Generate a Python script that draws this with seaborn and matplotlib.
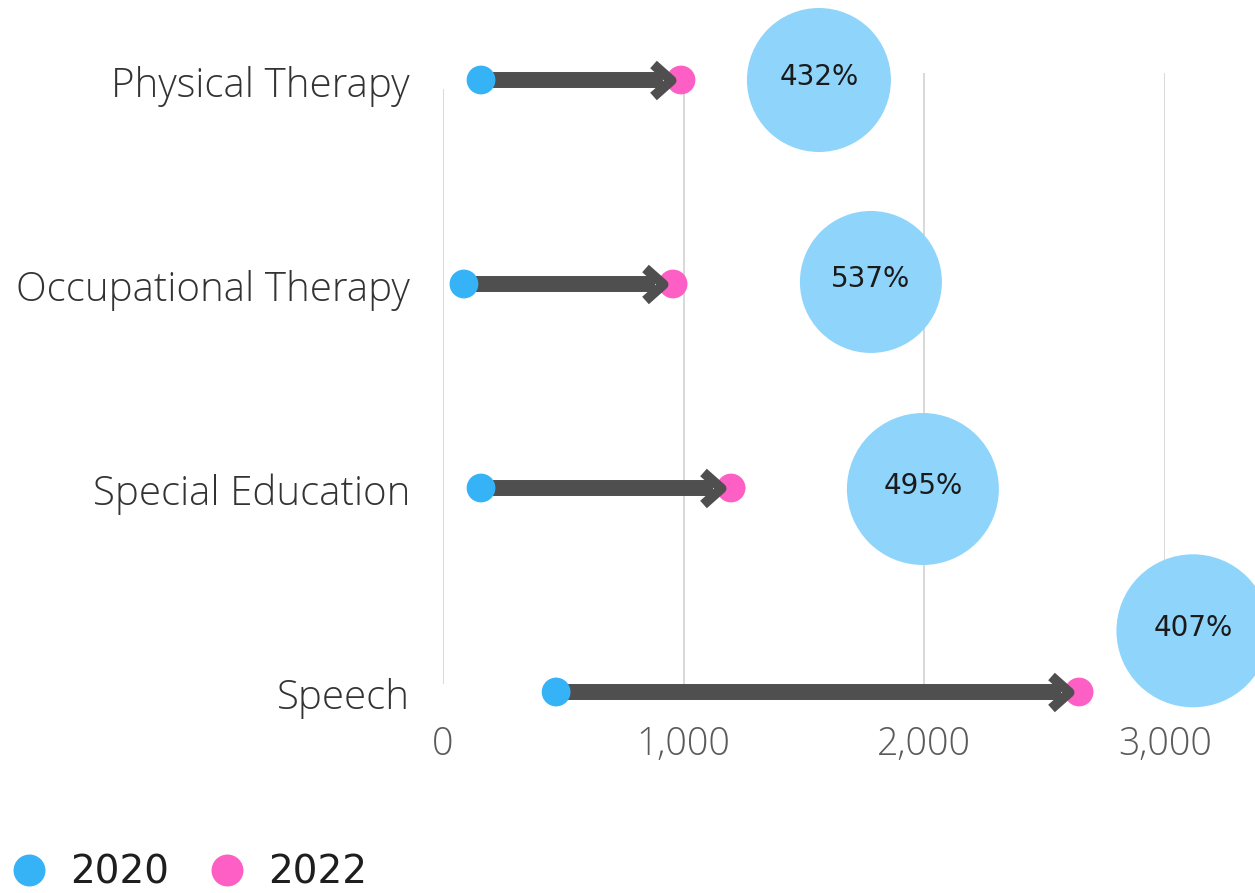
import matplotlib
matplotlib.use("Agg")
import matplotlib.pyplot as plt
import matplotlib.transforms as mtransforms
from matplotlib.lines import Line2D
from matplotlib.markers import MarkerStyle
from matplotlib.path import Path
import seaborn as sns
import pandas as pd

# --- data -------------------------------------------------------------
categories = ["Physical Therapy", "Occupational Therapy", "Special Education", "Speech"]
values_2020 = [158, 87, 158, 470]
values_2022 = [989, 956, 1197, 2643]
growth_labels = ["432%", "537%", "495%", "407%"]
x_ticks = [0, 1000, 2000, 3000]
x_tick_labels = ["0", "1,000", "2,000", "3,000"]

# --- layout / style ---------------------------------------------------
W, H = 1255, 893
BLUE = "#36b3f6"
PINK = "#fd5fc5"
BUBBLE = "#8fd5fb"
ARROW = "#4f4f4f"
GRID = "#d6d6d6"

bubble_x = [1562, 1778, 1994, 3116]
bubble_dy = [0.0, -0.01, 0.005, -0.30]
bubble_diam_px = [144, 142, 152, 153]

sns.set_theme(style="white")
plt.rcParams["font.family"] = ["Open Sans", "DejaVu Sans"]

rows = list(range(len(categories)))
df = pd.DataFrame({
    "category": categories * 2,
    "row": rows * 2,
    "value": values_2020 + values_2022,
    "year": ["2020"] * len(categories) + ["2022"] * len(categories),
})

fig = plt.figure(figsize=(W / 100, H / 100), dpi=100)
ax = fig.add_axes([443 / W, 1 - 684 / H, 722 / W, 611 / H])
ax.set_xlim(0, 3000)
ax.set_ylim((684 - 80) / 204, (73 - 80) / 204)
for s in ax.spines.values():
    s.set_visible(False)

# vertical gridlines
for t in x_ticks:
    top = (89 - 80) / 204 if t == 0 else (73 - 80) / 204
    ax.vlines(t, top, (684 - 80) / 204, color=GRID, lw=1.3, zorder=0)

# growth bubbles
for i, lab in enumerate(growth_labels):
    yb = rows[i] + bubble_dy[i]
    ax.scatter(bubble_x[i], yb, s=(bubble_diam_px[i] * 0.72) ** 2, color=BUBBLE,
               edgecolor="none", zorder=1, clip_on=False)
    ax.text(bubble_x[i], yb - 0.015, lab, ha="center", va="center", fontsize=20,
            family=["DejaVu Sans"], color="#1a1a1a", zorder=6, clip_on=False)

# 2022 endpoints (beneath the arrows)
sns.scatterplot(data=df[df["year"] == "2022"], x="value", y="row", color=PINK,
                s=430, edgecolor="none", zorder=2, clip_on=False, legend=False, ax=ax)

# arrow shafts from 2020 to 2022
for r, a, b in zip(rows, values_2020, values_2022):
    ax.annotate("", xy=(b, r), xytext=(a, r), annotation_clip=False,
                arrowprops=dict(arrowstyle="-", lw=11.5, color=ARROW,
                                shrinkA=0, shrinkB=13, capstyle="butt"), zorder=3)

# open chevron heads, tip sitting on the 2022 point
chevron = Path([(-28, 16), (-10, 0), (-28, -16)],
               [Path.MOVETO, Path.LINETO, Path.LINETO])
head = MarkerStyle(chevron, joinstyle="miter", capstyle="butt")
ax.plot(values_2022, rows, ls="none", marker=head, markersize=56 * 0.72,
        markerfacecolor="none", markeredgecolor=ARROW, markeredgewidth=7.2,
        zorder=3.5, clip_on=False)

# 2020 start points
sns.scatterplot(data=df[df["year"] == "2020"], x="value", y="row", color=BLUE,
                s=430, edgecolor="none", zorder=4, clip_on=False, legend=False, ax=ax)

# category labels
trans = mtransforms.blended_transform_factory(ax.transAxes, ax.transData)
for r, name in zip(rows, categories):
    ax.text(-33 / 722, r + 17 / 204, name, transform=trans, ha="right", va="baseline",
            fontsize=29, fontweight="light", color="#333333", clip_on=False)

ax.set_yticks([])
ax.set_xticks(x_ticks)
ax.set_xticklabels(x_tick_labels, fontsize=27, fontweight="light", color="#5a5a5a")
ax.tick_params(axis="x", length=0, pad=30)
ax.set_xlabel("")
ax.set_ylabel("")

# legend
handles = [Line2D([], [], marker="o", ls="none", markersize=23, markerfacecolor=c,
                  markeredgecolor="none") for c in (BLUE, PINK)]
fig.legend(handles, ["2020", "2022"], loc="center left",
           bbox_to_anchor=(9.6 / W, 1 - 873 / H), ncol=2, frameon=False,
           prop={"family": ["DejaVu Sans"], "size": 28}, labelcolor="#1e1e1e",
           handletextpad=0.55, columnspacing=1.0, handlelength=1.0,
           borderpad=0, borderaxespad=0)

fig.savefig("out.png", dpi=100, facecolor="white")
